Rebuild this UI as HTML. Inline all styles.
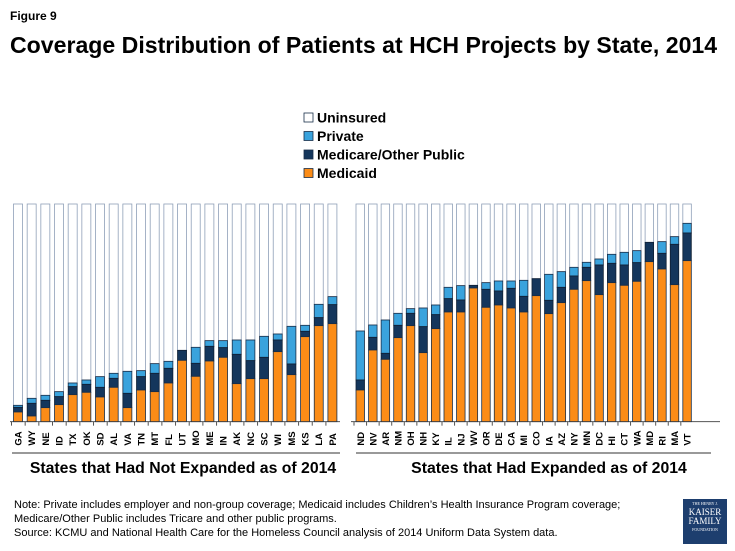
<!DOCTYPE html>
<html><head><meta charset="utf-8"><style>
body{margin:0;width:735px;height:551px;background:#fff;font-family:"Liberation Sans",sans-serif;position:relative;overflow:hidden}
.t{position:absolute;white-space:nowrap;color:#000}
</style></head><body>
<div class="t" style="left:10px;top:9px;font-size:12px;font-weight:bold">Figure 9</div>
<div class="t" style="left:10px;top:32px;font-size:23.1px;font-weight:bold">Coverage Distribution of Patients at HCH Projects by State, 2014</div>
<svg id="s" width="735" height="551" style="position:absolute;left:0;top:0"></svg>
<div class="t" style="left:14px;top:498px;font-size:11px;line-height:14px">Note: Private includes employer and non-group coverage; Medicaid includes Children’s Health Insurance Program coverage;<br>Medicare/Other Public includes Tricare and other public programs.<br>Source: KCMU and National Health Care for the Homeless Council analysis of 2014 Uniform Data System data.</div>
<div style="position:absolute;left:683px;top:499px;width:44px;height:45px;background:#1d3e6e;color:#fff;font-family:'Liberation Serif',serif;text-align:center;line-height:1">
<div style="font-size:4px;margin-top:3px">THE HENRY J.</div><div style="font-size:9px;margin-top:2px">KAISER</div><div style="font-size:9px">FAMILY</div><div style="font-size:4px;margin-top:2px">FOUNDATION</div></div>
<script>
var L=[["GA",636,622,616],["WY",648,610,595],["NE",623,601,586],["ID",614,590,575],["TX",584,560,549],["OK",577,553,540],["SD",591,562,530],["AL",562,535,520],["VA",623,580,514],["TN",570,530,512],["MT",575,520,491],["FL",549,505,484],["UT",481,451,451],["MO",529,490,442],["ME",483,439,422],["IN",472,443,422],["AK",551,463,420],["NC",536,482,420],["SC",536,472,409],["WI",455,420,402],["MS",524,492,379],["KS",410,394,376],["LA",377,353,313],["PA",371,314,290]];
var R=[["ND",570,540,393],["NV",450,412,375],["AR",478,460,360],["NM",413,376,340],["OH",377,340,326],["NH",458,380,324],["KY",386,344,315],["IL",336,296,262],["NJ",336,300,257],["WV",264,256,256],["OR",322,268,248],["DE",315,273,243],["CA",324,265,243],["MI",336,289,241],["CO",287,236,236],["IA",341,301,223],["AZ",308,262,215],["NY",268,228,202],["MN",242,202,187],["DC",284,195,177],["HI",248,190,163],["CT",256,195,157],["WA",244,188,152],["MD",185,127,127],["RI",207,160,125],["MA",254,133,110],["VT",182,99,70]];
var h='';function Y(z){return 200+z/3}
function rect(x,y1,y2,w,f,s){if(y2-y1<0.3)return;h+='<rect x="'+x+'" y="'+y1+'" width="'+w+'" height="'+(y2-y1)+'" fill="'+f+'" stroke="'+s+'" stroke-width="0.8"/>'}
function grp(D,x0,p,w,x1,x2){var b=Y(665);
h+='<line x1="'+x1+'" y1="'+b+'" x2="'+x2+'" y2="'+b+'" stroke="#555" stroke-width="1"/>';
D.forEach(function(d,i){var x=x0+i*p;
rect(x,Y(12),Y(d[3]),w,"#fff","#8fa0b8");
rect(x,Y(d[3]),Y(d[2]),w,"#3aa3dd","#1a2f4a");
rect(x,Y(d[2]),Y(d[1]),w,"#14365c","#0f1f33");
rect(x,Y(d[1]),b,w,"#fb8c17","#1a2f4a");
h+='<line x1="'+(x-2)+'" y1="'+b+'" x2="'+(x-2)+'" y2="'+(b+4)+'" stroke="#555"/>';
h+='<text transform="translate('+(x+w/2+3.5)+','+(b+24)+') rotate(-90)" font-size="9.5" font-weight="bold" font-family="Liberation Sans">'+d[0]+'</text>';});}
grp(L,13.5,13.67,9,10,340);grp(R,356,12.57,8.5,351,720);
h+='<line x1="12" y1="453" x2="340" y2="453" stroke="#333"/><line x1="356" y1="453" x2="711" y2="453" stroke="#333"/>';
h+='<text x="183" y="473" text-anchor="middle" font-size="15.8" font-weight="bold" font-family="Liberation Sans">States that Had Not Expanded as of 2014</text>';
h+='<text x="549" y="473" text-anchor="middle" font-size="15.8" font-weight="bold" font-family="Liberation Sans">States that Had Expanded as of 2014</text>';
var lg=[["Uninsured","#fff"],["Private","#3aa3dd"],["Medicare/Other Public","#14365c"],["Medicaid","#fb8c17"]];
lg.forEach(function(l,i){var y=113+i*18.5;h+='<rect x="304" y="'+y+'" width="9" height="9" fill="'+l[1]+'" stroke="#1a2f4a" stroke-width="0.8"/><text x="317" y="'+(y+9.5)+'" font-size="14" font-weight="bold" font-family="Liberation Sans">'+l[0]+'</text>'});
document.getElementById('s').innerHTML=h;
</script>
</body></html>
